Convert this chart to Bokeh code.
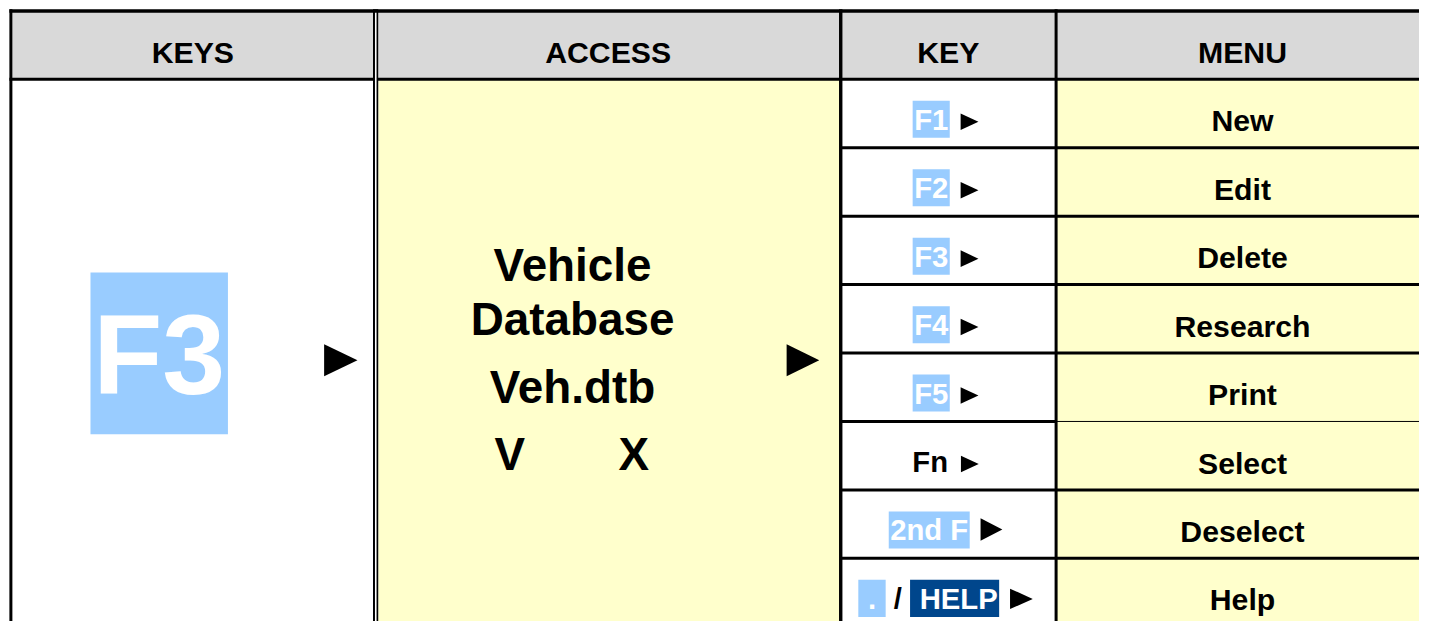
from bokeh.plotting import figure
from bokeh.models import Range1d, ColumnDataSource
from bokeh.core.properties import value
from bokeh.embed import file_html
from bokeh.resources import INLINE

NB = "\u00a0"  # non-breaking space (plain spaces are collapsed in SVG text)

# ---------------- content ----------------
headers = ["KEYS", "ACCESS", "KEY", "MENU"]
key_press = "F3"
access_lines = ["Vehicle", "Database", "Veh.dtb"]
access_codes = ["V", "X"]
menu_items = ["New", "Edit", "Delete", "Research", "Print", "Select", "Deselect", "Help"]
key_label_texts = [["F1"], ["F2"], ["F3"], ["F4"], ["F5"], ["Fn"], ["2nd" + NB + "F"],
                   [NB + "." + NB, NB + "/" + NB, NB + "HELP"]]
key_label_styles = [["light"], ["light"], ["light"], ["light"], ["light"], ["plain"], ["light"],
                    ["light", "plain", "dark"]]
arrow_sizes = [(18, 17), (18, 17), (18, 17), (18, 17), (18, 17), (18, 17), (22, 23), (23, 21)]

# ---------------- style / layout ----------------
FONT = value("Liberation Sans")
GRAY = "#D9D9D9"
YELLOW = "#FFFFCC"
LIGHT = "#99CCFF"
DARK = "#00468C"
BSHIFT = 0.35  # baseline correction (fraction of font size)

W, H = 1419, 621
REF_W, REF_H = 1435, 637
SX, SY = W / REF_W, H / REF_H
RIGHT = 1444
TOP = 10.8
HB = 80.8
ROW_H = 70.2
NROWS = len(menu_items)
BOTTOM = HB + ROW_H * NROWS
KEYS_L, DBL_L, DBL_R = 12, 376.7, 382.0
ACC_R = 849.7
KEY_R = 1067.5
col_centers = [194.5, 614.5, 958.5, 1256]


def fpx(size):
    return size * SY


def by(y, size):
    return y - BSHIFT * size


def fs(size):
    return f"{fpx(size):.2f}px"


p = figure(width=W, height=H, x_range=Range1d(0, REF_W), y_range=Range1d(REF_H, 0),
           output_backend="svg", toolbar_location=None, min_border=0)
p.axis.visible = False
p.grid.visible = False
p.outline_line_color = None
p.background_fill_color = "white"
p.border_fill_color = "white"

# fills
p.quad(left=[KEYS_L, DBL_R, ACC_R, KEY_R], right=[DBL_L, ACC_R, KEY_R, RIGHT],
       top=[TOP] * 4, bottom=[HB] * 4, fill_color=GRAY, line_color=None)
p.quad(left=[DBL_R, KEY_R], right=[ACC_R, RIGHT], top=[HB] * 2, bottom=[BOTTOM] * 2,
       fill_color=YELLOW, line_color=None)

# horizontal lines
hx0, hx1, hy, hw = [9, 9], [RIGHT, RIGHT], [TOP, HB], [3.4, 3]
for k in range(1, NROWS):
    y = HB + ROW_H * k
    if k == 5:
        hx0 += [ACC_R, KEY_R]; hx1 += [KEY_R, RIGHT]; hy += [y, y]; hw += [3, 1]
    else:
        hx0.append(ACC_R); hx1.append(RIGHT); hy.append(y); hw.append(3)
p.segment(x0=hx0, x1=hx1, y0=hy, y1=hy, line_width=hw, line_color="black", line_cap="butt")

# vertical lines
p.segment(x0=[10.5, ACC_R, KEY_R], x1=[10.5, ACC_R, KEY_R], y0=[9] * 3, y1=[BOTTOM] * 3,
          line_width=[3, 3.4, 3], line_color="black", line_cap="butt")
p.quad(left=[DBL_L], right=[DBL_R], top=[9], bottom=[BOTTOM], fill_color="black", line_color=None)
p.quad(left=[378.7], right=[380.3], top=[12.6], bottom=[BOTTOM], fill_color="white", line_color=None)

# headers
p.text(x=col_centers, y=[by(64.3, 31)] * 4, text=headers, text_font=FONT, text_font_style="bold",
       text_font_size=fs(31), text_align="center", text_baseline="alphabetic", text_color="black")

# big key
p.quad(left=[91], right=[230], top=[279], bottom=[445], fill_color=LIGHT, line_color=None)
p.text(x=[160.5], y=[by(404, 116)], text=[key_press], text_font=FONT, text_font_style="bold",
       text_font_size=fs(116), text_align="center", text_baseline="alphabetic", text_color="white")

# access text
p.text(x=[578.5] * 3, y=[by(v, 47) for v in (288.3, 343.3, 413.5)], text=access_lines, text_font=FONT,
       text_font_style="bold", text_font_size=fs(47), text_align="center",
       text_baseline="alphabetic", text_color="black")
p.text(x=[515, 640.5], y=[by(482.5, 47)] * 2, text=access_codes, text_font=FONT,
       text_font_style="bold", text_font_size=fs(47), text_align="center",
       text_baseline="alphabetic", text_color="black")

# menu text
p.text(x=[col_centers[3]] * NROWS, y=[by(HB + ROW_H * (i + 0.5) + 18.4, 31) for i in range(NROWS)],
       text=menu_items, text_font=FONT, text_font_style="bold", text_font_size=fs(31),
       text_align="center", text_baseline="alphabetic", text_color="black")

# key column labels
CW = {' ': 278, NB: 278, '.': 278, '/': 278, '1': 556, '2': 556, '3': 556, '4': 556, '5': 556,
      'F': 611, 'n': 611, 'd': 611, 'H': 722, 'E': 667, 'L': 611, 'P': 667}


def tw(s, size):
    # width in reference units of text drawn at fs(size)
    return sum(CW.get(c, 556) for c in s) / 1000.0 * fpx(size) / SX


KFS = 30
PAD = 1.5
KEY_MID = 955.7
bx_l, bx_r, bx_t, bx_b, bx_c = [], [], [], [], []
tx, ty, tt, tc = [], [], [], []
tri_xs, tri_ys = [], []
for i, (segs, styles) in enumerate(zip(key_label_texts, key_label_styles)):
    yc = HB + ROW_H * (i + 0.5)
    base = yc + 17
    widths = [tw(s, KFS) + (2 * PAD if st != "plain" else 0) for s, st in zip(segs, styles)]
    aw, ah = arrow_sizes[i]
    gap = 11 if styles[-1] != "plain" else 13
    total = sum(widths) + gap + aw
    x = KEY_MID - total / 2
    for s, st, w in zip(segs, styles, widths):
        if st != "plain":
            bx_l.append(x); bx_r.append(x + w); bx_t.append(base - 30); bx_b.append(base + 8)
            bx_c.append(LIGHT if st == "light" else DARK)
            tx.append(x + PAD); tc.append("white")
        else:
            tx.append(x); tc.append("black")
        ty.append(by(base, KFS)); tt.append(s)
        x += w
    ax = x + gap
    tri_xs.append([ax, ax, ax + aw]); tri_ys.append([base - ah, base, base - ah / 2])

p.quad(left=bx_l, right=bx_r, top=bx_t, bottom=bx_b, fill_color=bx_c, line_color=None)
p.text(x="x", y="y", text="t", text_color="c", source=ColumnDataSource(dict(x=tx, y=ty, t=tt, c=tc)),
       text_font=FONT, text_font_style="bold", text_font_size=fs(KFS), text_align="left",
       text_baseline="alphabetic")

# big arrows
for (ax0, ax1) in [(327.3, 361), (795, 828)]:
    tri_xs.append([ax0, ax0, ax1]); tri_ys.append([352.5, 385.5, 369])
p.patches(xs=tri_xs, ys=tri_ys, fill_color="black", line_color=None)

open("out.html", "w").write(file_html(p, INLINE))
